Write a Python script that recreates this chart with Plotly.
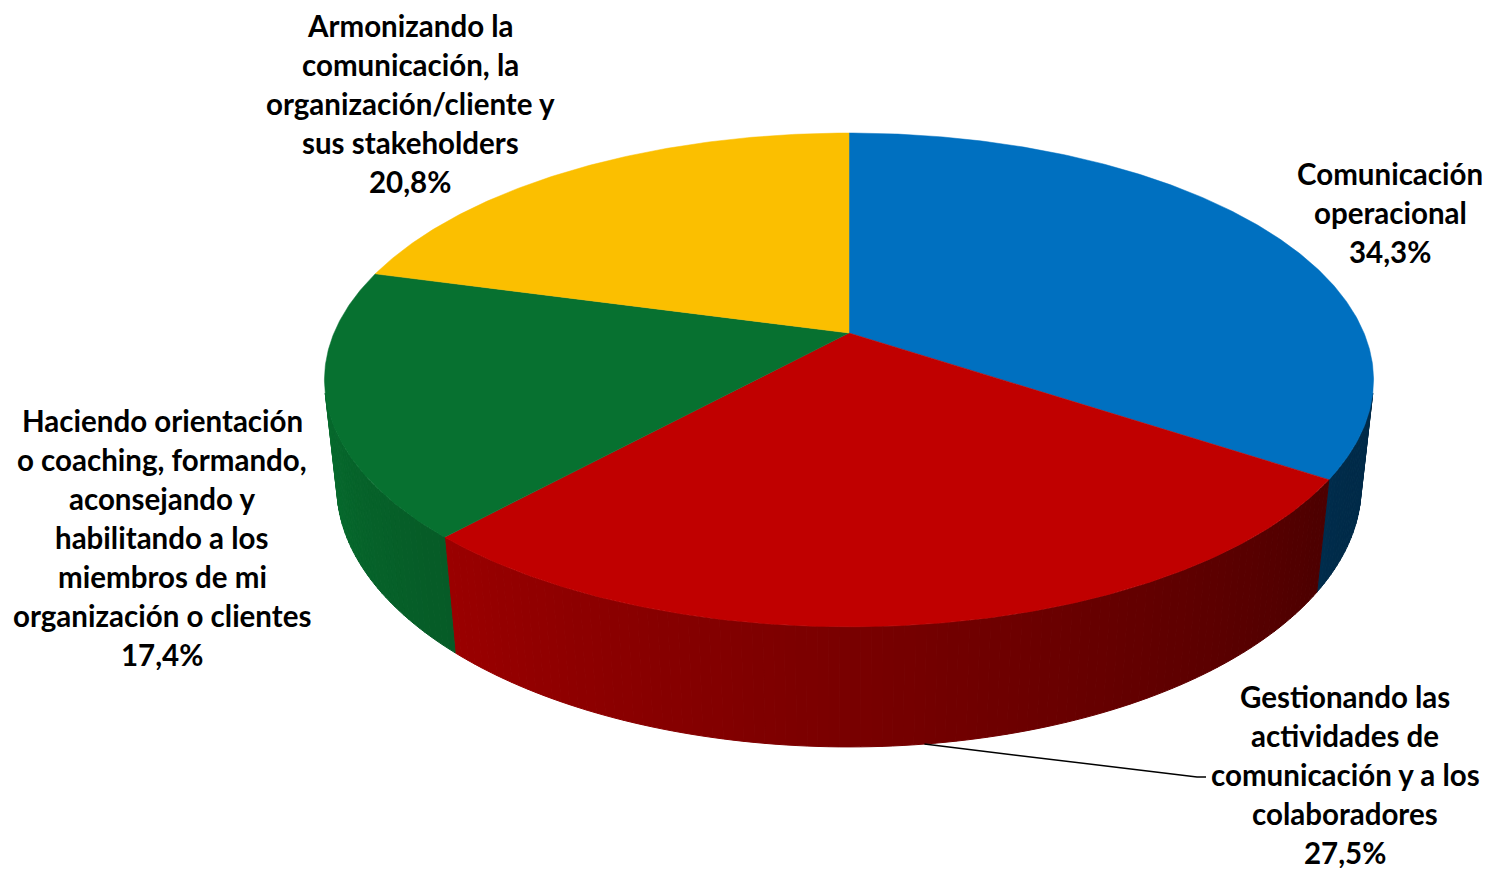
import math
import plotly.graph_objects as go

# Survey shares (percent), clockwise from 12 o'clock
categories = [
    "Comunicación operacional",
    "Gestionando las actividades de comunicación y a los colaboradores",
    "Haciendo orientación o coaching, formando, aconsejando y habilitando a los miembros de mi organización o clientes",
    "Armonizando la comunicación, la organización/cliente y sus stakeholders",
]
values = [34.3, 27.5, 17.4, 20.8]
label_lines = [
    ["Comunicación", "operacional"],
    ["Gestionando las", "actividades de", "comunicación y a los", "colaboradores"],
    ["Haciendo orientación", "o coaching, formando,", "aconsejando y", "habilitando a los",
     "miembros de mi", "organización o clientes"],
    ["Armonizando la", "comunicación, la", "organización/cliente y", "sus stakeholders"],
]
colors = [(0, 112, 192), (192, 0, 0), (7, 113, 48), (251, 191, 0)]

W, H = 1487, 869

# Perspective camera for a tilted 3D pie (unit radius disc)
CX, CY = 849.0, 333.0
ALPHA = math.asin(238.0 / 515.0)
SA, CA = math.sin(ALPHA), math.cos(ALPHA)
DIST = 1.0 / (0.19 / CA)
FOC = 515.0 * DIST
THICK = 0.234


def proj(theta_deg, y):
    t = math.radians(theta_deg)
    x3, z3 = math.sin(t), math.cos(t)
    d = DIST - y * SA + z3 * CA
    u = y * CA + z3 * SA
    return CX + FOC * x3 / d, CY - FOC * u / d


def rgb(c, k=1.0):
    return "rgb(%d,%d,%d)" % tuple(max(0, min(255, round(v * k))) for v in c)


def shade(theta):
    return max(0.38, min(0.95, 0.40 + 0.0041 * (theta - 124.0)))


# slice angles
bounds = [0.0]
for v in values:
    bounds.append(bounds[-1] + v / sum(values) * 360.0)

sil = math.degrees(math.acos(-1.0 / (DIST * CA)))
vis_lo, vis_hi = sil, 360.0 - sil

fig = go.Figure()

# front wall of the cylinder, split into thin strips for the shading gradient
for i, c in enumerate(colors):
    a0, a1 = max(bounds[i], vis_lo), min(bounds[i + 1], vis_hi)
    if a1 <= a0:
        continue
    n = max(1, int(math.ceil(a1 - a0)))
    step = (a1 - a0) / n
    for j in range(n):
        t0, t1 = a0 + j * step, a0 + (j + 1) * step
        p = [proj(t0, 0), proj(t1, 0), proj(t1, -THICK), proj(t0, -THICK), proj(t0, 0)]
        col = rgb(c, shade((t0 + t1) / 2))
        fig.add_trace(go.Scatter(
            x=[q[0] for q in p], y=[q[1] for q in p], mode="lines",
            fill="toself", fillcolor=col, line=dict(color=col, width=1),
            hoverinfo="skip", showlegend=False))

# top faces
for i, c in enumerate(colors):
    a0, a1 = bounds[i], bounds[i + 1]
    n = max(2, int(math.ceil((a1 - a0) * 2)))
    pts = [(CX, CY)] + [proj(a0 + (a1 - a0) * k / n, 0) for k in range(n + 1)] + [(CX, CY)]
    fig.add_trace(go.Scatter(
        x=[q[0] for q in pts], y=[q[1] for q in pts], mode="lines",
        fill="toself", fillcolor=rgb(c), line=dict(color=rgb(c), width=0.5),
        name=categories[i], hoverinfo="name", showlegend=False))

# leader line for the red slice label
mid = (bounds[1] + bounds[2]) / 2
lx, ly = proj(mid, -THICK)
fig.add_trace(go.Scatter(
    x=[lx, 1197, 1206], y=[ly, 777, 777], mode="lines",
    line=dict(color="black", width=1.5), hoverinfo="skip", showlegend=False))

# data labels (text lines + percentage)
label_pos = [(1390, 173), (1345, 696), (162, 420), (410, 25)]
PITCH = 39.0
for i, lines in enumerate(label_lines):
    x0, y0 = label_pos[i]
    pct = ("%.1f%%" % values[i]).replace(".", ",")
    for k, txt in enumerate(lines + [pct]):
        extra = {"height": 32} if txt == pct else {}
        fig.add_annotation(
            x=x0, y=y0 + k * PITCH, xref="x", yref="y", text=txt,
            showarrow=False, xanchor="center", yanchor="middle",
            font=dict(family="Lato", size=29.5, color="black", weight="bold"),
            **extra)

fig.update_layout(
    width=W, height=H, autosize=False,
    margin=dict(l=0, r=0, t=0, b=0),
    paper_bgcolor="white", plot_bgcolor="white",
    xaxis=dict(range=[0, W], visible=False, fixedrange=True),
    yaxis=dict(range=[H, 0], visible=False, fixedrange=True),
)

fig.write_html("out.html")
